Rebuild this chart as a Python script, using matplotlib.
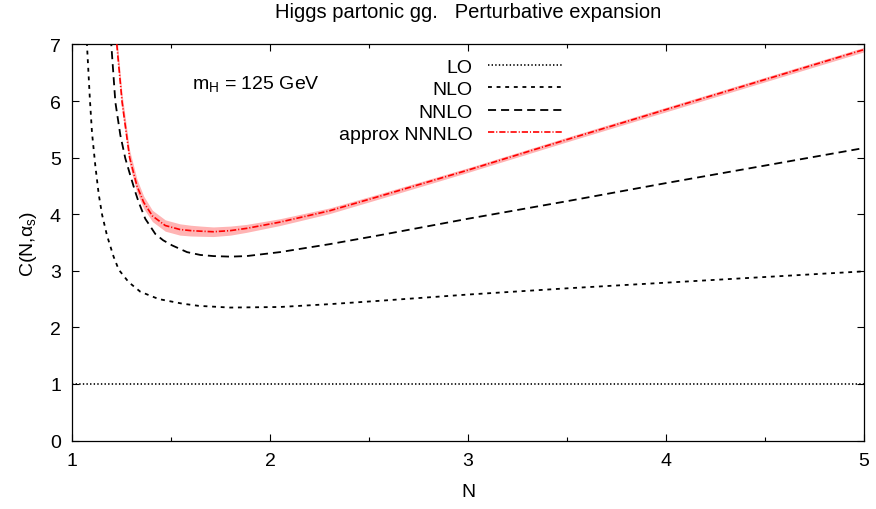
import numpy as np
import matplotlib
matplotlib.use('Agg')
from matplotlib import pyplot as plt

plt.rcParams['font.family'] = ['Liberation Sans', 'DejaVu Sans']
plt.rcParams['font.size'] = 14
plt.rcParams['mathtext.default'] = 'regular'
plt.rcParams['lines.scale_dashes'] = False

# values
N_lo = [1.0, 5.0]
C_lo = [1.0, 1.0]

N_nlo = [1.062, 1.076, 1.09, 1.101, 1.118, 1.135, 1.152, 1.177, 1.21, 1.236,
         1.286, 1.345, 1.438, 1.556, 1.64, 1.798, 2.05, 2.30, 2.556, 3.0,
         3.5, 4.0, 4.5, 5.0]
C_nlo = [8.3, 6.97, 6.05, 5.44, 4.85, 4.35, 3.99, 3.62, 3.25, 3.02,
         2.80, 2.63, 2.50, 2.42, 2.38, 2.35, 2.36, 2.41, 2.47, 2.58,
         2.69, 2.79, 2.89, 2.99]

N_nnlo = [1.185, 1.199, 1.219, 1.244, 1.269, 1.295, 1.32, 1.337, 1.37, 1.421,
          1.46, 1.505, 1.581, 1.648, 1.714, 1.80, 1.882, 2.05, 2.30, 2.556,
          3.0, 3.5, 4.0, 4.5, 5.0]
C_nnlo = [7.95, 6.97, 5.98, 5.40, 4.99, 4.68, 4.39, 4.21, 3.92, 3.65,
          3.54, 3.45, 3.33, 3.28, 3.26, 3.25, 3.26, 3.33, 3.47, 3.63,
          3.92, 4.23, 4.55, 4.86, 5.17]

N_n3lo = [1.215, 1.227, 1.253, 1.291, 1.328, 1.362, 1.406, 1.471, 1.545, 1.60,
          1.65, 1.714, 1.80, 1.882, 2.05, 2.30, 2.556, 3.0, 3.5, 4.0,
          4.5, 5.0]
C_n3lo = [7.6, 6.97, 5.98, 5.0, 4.5, 4.21, 3.97, 3.80, 3.73, 3.71,
          3.70, 3.69, 3.71, 3.75, 3.86, 4.06, 4.32, 4.78, 5.32, 5.85,
          6.38, 6.91]
err_n3lo = [0.15, 0.15, 0.14, 0.13, 0.12, 0.11, 0.10, 0.10, 0.10, 0.095,
            0.09, 0.085, 0.08, 0.07, 0.06, 0.05, 0.045, 0.04, 0.04, 0.04,
            0.04, 0.04]

fig = plt.figure(figsize=(8.76, 5.10), dpi=100)
ax = fig.add_axes([0.0822, 0.1343, 0.9041, 0.7765])

lo_band = np.array(C_n3lo) - np.array(err_n3lo)
hi_band = np.array(C_n3lo) + np.array(err_n3lo)
ax.fill_between(N_n3lo, lo_band, hi_band, color='#ffb4b4', lw=0, zorder=1)

ax.plot(N_lo, C_lo, color='k', lw=1.2, ls=(0, (1.0, 1.6)), label='LO')
ax.plot(N_nlo, C_nlo, color='k', lw=1.3, ls=(0, (2.8, 3.4)), label='NLO')
ax.plot(N_nnlo, C_nnlo, color='k', lw=1.3, ls=(0, (5.8, 3.6)), label='NNLO')
ax.plot(N_n3lo, C_n3lo, color='red', lw=1.2, ls=(0, (4.5, 1.4, 0.8, 1.4)),
        label='approx NNNLO', zorder=3)

ax.set_xlim(1, 5)
ax.set_ylim(0, 7)
ax.set_xticks([1, 2, 3, 4, 5])
ax.set_xticks([1.5, 2.5, 3.5, 4.5], minor=True)
ax.set_yticks(range(8))
ax.tick_params(which='both', direction='in', top=True, right=True, width=0.8)
ax.tick_params(which='major', length=5, pad=8)
ax.tick_params(which='minor', length=3)
for sp in ax.spines.values():
    sp.set_linewidth(0.9)

ax.set_xlabel('N', labelpad=10)
ax.set_ylabel(r'C(N,$\alpha_s$)', labelpad=8)
fig.text(0.534, 0.975, 'Higgs partonic gg.   Perturbative expansion',
         ha='center', va='center', fontsize=14.5)
ax.text(0.1515, 0.903, r'$m_H$ = 125 GeV', transform=ax.transAxes,
        ha='left', va='center')

ax.legend(loc='upper right', bbox_to_anchor=(0.636, 1.0), frameon=False,
          markerfirst=False, handlelength=3.8, handletextpad=0.8,
          labelspacing=0.25, borderaxespad=0.3)

fig.savefig('out.png', dpi=100)
